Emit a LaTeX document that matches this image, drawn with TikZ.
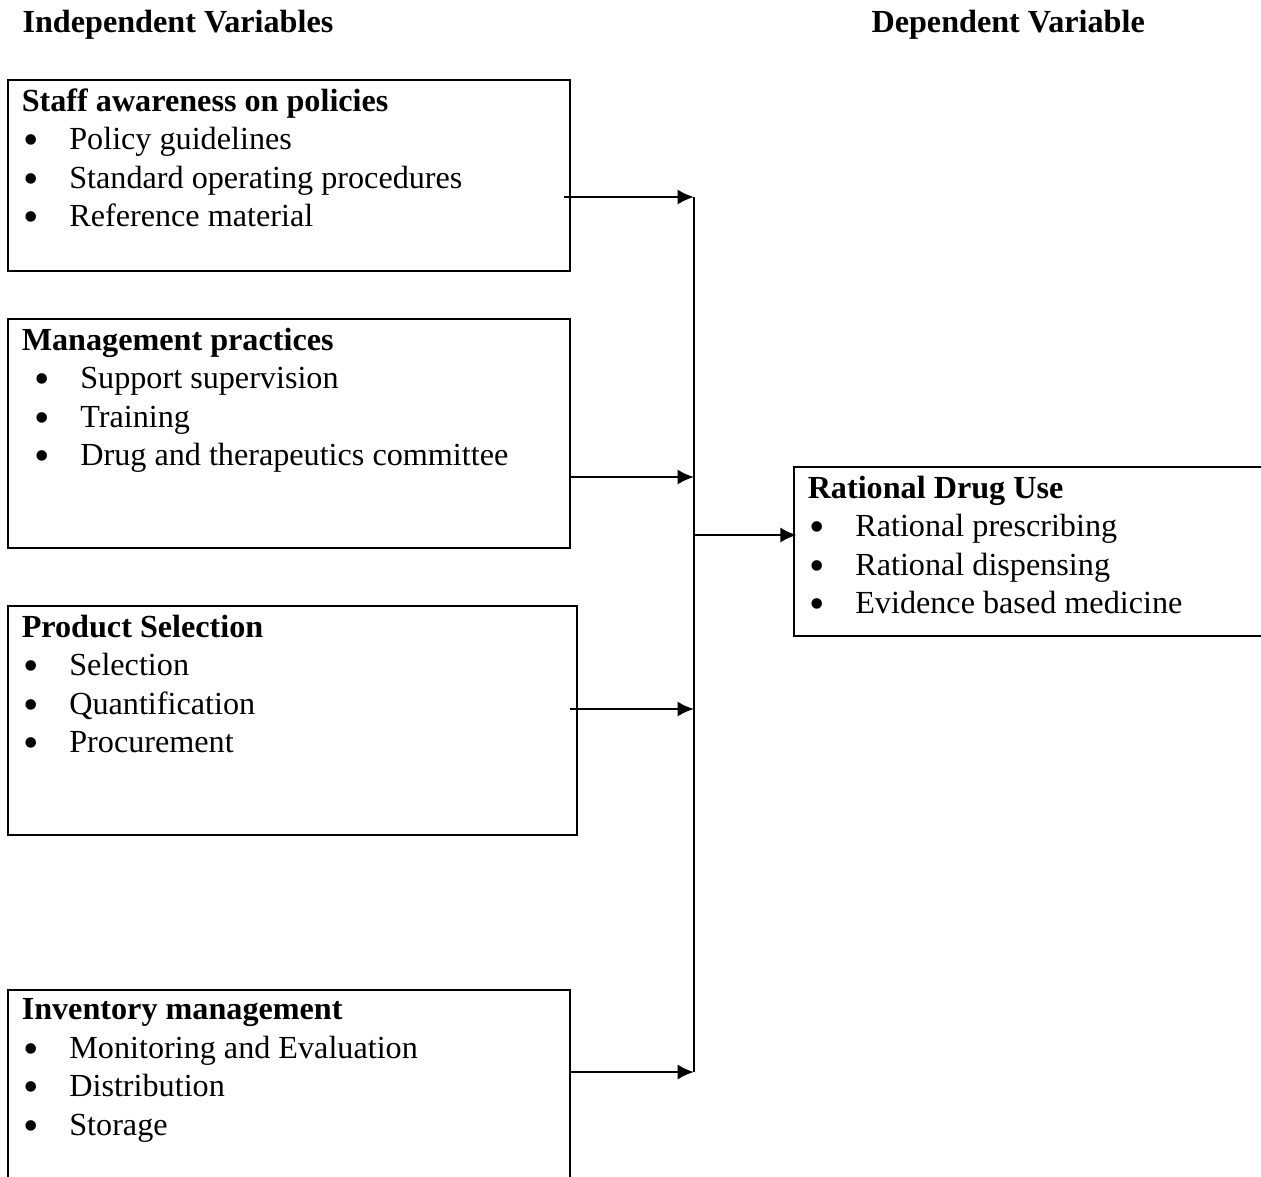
\documentclass[tikz,border=0pt]{standalone}
\usepackage{fontspec}
\setmainfont{Liberation Serif}
\usetikzlibrary{arrows.meta}

% one bullet line, #1 = extra indent
\newcommand{\itm}[2][0pt]{\makebox[\dimexpr17.3pt+#1\relax][l]{\hspace{\dimexpr0.6pt+#1\relax}\raisebox{-1.8pt}{\smash{\fontsize{16}{14}\selectfont\textbullet}}}#2\\}
% box contents: width, height, title, items
\newcommand{\varbody}[4]{\parbox[t][#2][t]{#1}{\raggedright\textbf{#3}\\#4}}

\tikzset{
  varbox/.style={draw, line width=0.9pt, anchor=north west, inner xsep=5pt,
    inner ysep=3.2pt, outer sep=0pt, font=\fontsize{11.7}{14}\selectfont},
  head/.style={anchor=base west, inner sep=0pt, font=\fontsize{11.7}{14}\selectfont\bfseries},
  arr/.style={line width=1pt, -{Latex[length=6pt,width=5.6pt]}}
}

\begin{document}
\begin{tikzpicture}[x=0.3636pt,y=-0.3636pt]
  \useasboundingbox (0,0) rectangle (1261,1176);

  \node[head] (indep) at (22,32) {Independent Variables};
  \node[head] (dep) at (871,32) {Dependent Variable};

  \node[varbox] (staff) at (8,80) {\varbody{194.3pt}{63.1pt}{Staff awareness on policies}{%
    \itm{Policy guidelines}\itm{Standard operating procedures}\itm{Reference material}}};
  \node[varbox] (mgmt) at (8,319) {\varbody{194.3pt}{76.9pt}{Management practices}{%
    \itm[4pt]{Support supervision}\itm[4pt]{Training}\itm[4pt]{Drug and therapeutics committee}}};
  \node[varbox] (prod) at (8,606) {\varbody{196.9pt}{76.9pt}{Product Selection}{%
    \itm{Selection}\itm{Quantification}\itm{Procurement}}};
  \node[varbox] (inv) at (8,990) {\varbody{194.3pt}{76.9pt}{Inventory management}{%
    \itm{Monitoring and Evaluation}\itm{Distribution}\itm{Storage}}};

  \node[varbox] (rdu) at (794,467) {\varbody{171.8pt}{55.1pt}{Rational Drug Use}{%
    \itm{Rational prescribing}\itm{Rational dispensing}\itm{Evidence based medicine}}};

  % junction line
  \coordinate (j1) at (694,197);
  \coordinate (j2) at (694,477);
  \coordinate (j3) at (694,709);
  \coordinate (j4) at (694,1072);
  \coordinate (jm) at (694,535);

  \draw[line width=0.9pt] (j1) -- (j4);
  \draw[arr] ([xshift=-2pt]staff.east |- j1) -- (j1);
  \draw[arr] (mgmt.east |- j2) -- (j2);
  \draw[arr] ([xshift=-2.5pt]prod.east |- j3) -- (j3);
  \draw[arr] (inv.east |- j4) -- (j4);
  \draw[arr] (jm) -- ([xshift=1pt]rdu.west |- jm);
\end{tikzpicture}
\end{document}
